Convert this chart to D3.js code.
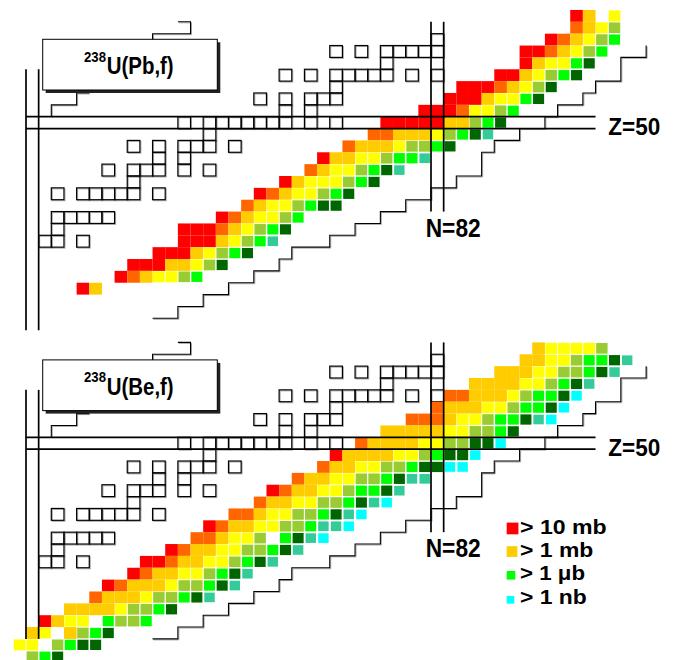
<!DOCTYPE html>
<html><head><meta charset="utf-8">
<script src="https://cdn.jsdelivr.net/npm/d3@7"></script>
<style>body{margin:0;background:#fff}svg{display:block}</style>
</head><body><svg id="c" width="673" height="660"></svg>
<script>
// cross-section classes (codes) and colours
const categories = ["R","O","G","Y","L","E","D","T","C"];
const categoryColors = ["#ff0000","#ff6600","#ffcc00","#ffff00","#99cc33","#00ff00","#006600","#33cc99","#00ffff"];

// rows: [Z, first N, class codes for N, N+1, ...] ('.' = not measured)
const pbRows = [
  [59, 93, "RG.Y"],
  [58, 93, "OGYL"],
  [57, 91, "ROGYLE"],
  [56, 89, "RROGYLE"],
  [55, 89, "RGYYED"],
  [54, 87, "RRGYLED"],
  [53, 84, "RRROGYLD"],
  [52, 83, "RRRGYYED"],
  [51, 81, "RRROYYLE"],
  [50, 78, "RRRRRGGLED"],
  [49, 77, "OOGGGYLEDT"],
  [48, 75, "OGGGYLLED"],
  [47, 73, "RGGYYLEET"],
  [46, 72, "OGYYLEDT"],
  [45, 70, "RGYYYLED"],
  [44, 68, "ROGYYLED"],
  [43, 67, "OGYYLEDD"],
  [42, 65, "ROGYYLE"],
  [41, 62, "RRROGYLED"],
  [40, 62, "RRRGYLET"],
  [39, 60, "RRRGYLED"],
  [38, 58, "RRRGGYLD"],
  [37, 57, "ROGYYLE"],
  [36, 54, "RG"]
];
const beRows = [
  [58, 90, "GYYYYL"],
  [57, 89, "GGYYLEEDT"],
  [56, 87, "GGGYYLLEDT"],
  [55, 85, "GGGGYYLEDT"],
  [54, 83, "OOGGGYLEEDC"],
  [53, 82, "OGGGYYLEEDC"],
  [52, 80, "OOOGYYLEEDTC"],
  [51, 78, "GGGGGYYLLED"],
  [50, 76, "OGGGGYYLLDDC"],
  [49, 74, "RGGGGYYLEDDC"],
  [48, 73, "OGGYYLLEDDCC"],
  [47, 71, "OGGYYLLEDTT"],
  [46, 69, "ROGGYYLEEDT"],
  [45, 68, "OGGYYLLEDTC"],
  [44, 66, "OOGYYLLEDTC"],
  [43, 64, "ROGGYYLLETTC"],
  [42, 63, "OOGYYL.EDTC"],
  [41, 61, "ROGGYYLLEDT"],
  [40, 59, "RROGGYYLEDT"],
  [39, 58, "ROGGYYLEDT"],
  [38, 56, "ROGGGYLLEDT"],
  [37, 55, "OGGGYLLEDT"],
  [36, 53, "GGGGYLLED"],
  [35, 51, "RGYY.ELLE"],
  [34, 50, "GY.GLED"],
  [33, 49, "YY.LEDD"],
  [32, 50, "LED"]
];

// stable nuclei: [Z, [N...]]
const stableNuclei = [
  [57, [82]],
  [56, [74, 76, 78, 79, 80, 81, 82]],
  [55, [78]],
  [54, [70, 72, 74, 75, 76, 77, 78, 80, 82]],
  [53, [74]],
  [52, [68, 70, 72, 73, 74]],
  [51, [70, 72]],
  [50, [62, 64, 65, 66, 67, 68, 69, 70, 72, 74]],
  [49, [64]],
  [48, [58, 60, 62, 63, 64, 66]],
  [47, [60, 62]],
  [46, [56, 58, 59, 60, 62, 64]],
  [45, [58]],
  [44, [52, 54, 55, 56, 57, 58, 60]],
  [42, [52, 53, 54, 55, 56]],
  [41, [52]],
  [40, [51, 52, 54]]
];

// limits of known nuclei: [N edge, Z edge (top of row Z)]
const neutronRichLimit = [[60,33],[62,33],[62,34],[64,34],[64,35],[66,35],[66,36],[68,36],[68,37],[70,37],[70,38],[71,38],[71,39],[74,39],[74,40],[76,40],[76,41],[78,41],[78,42],[80,42],[80,43],[82,43],[82,44],[84,44],[84,45],[86,45],[86,47],[87,47],[87,48],[89,48],[89,49],[91,49],[91,50],[92,50],[92,51],[94,51],[94,52],[95,52],[95,53],[97,53],[97,55],[99,55],[99,56]];
const protonLimitLow = [[52,50],[52,51],[54,51],[54,52],[55,52]];
const protonLimitHigh = [[60,56],[60,57],[63,57],[63,58],[62,58]];

// magic numbers
const magicZ = 50, magicN = [50, 82];

const legendLabels = ["> 10 mb", "> 1 mb", "> 1 \u03bcb", "> 1 nb"];
const legendClasses = [0, 2, 5, 8];

const panels = [
  {mass: "238", reaction: "U(Pb,f)", rows: pbRows, y0: 116.7, colBottomZ: 32},
  {mass: "238", reaction: "U(Be,f)", rows: beRows, y0: 437.3, colBottomZ: 33}
];

const rowH = 11.86;
const x = d3.scaleLinear().domain([50, 82]).range([26, 431]);
const svg = d3.select("#c");
const FONT = "'Liberation Sans', Arial, Helvetica, sans-serif";
const insetFor = k => [0, 0, 0, 0.45, 0.6, 0.8, 0.8, 1.1, 1.1][k];

panels.forEach((p, pi) => {
  const y = d3.scaleLinear().domain([50, 58]).range([p.y0, p.y0 - 8 * rowH]);
  const g = svg.append("g");
  const cw = N => x(N + 1) - x(N);
  const ch = Z => y(Z - 1) - y(Z);

  // stable nuclei
  const stable = stableNuclei.flatMap(([Z, Ns]) => Ns.map(N => ({N, Z})));
  g.selectAll("rect.stsh").data(stable).join("rect").attr("class", "stsh")
    .attr("x", d => x(d.N) + 1).attr("y", d => y(d.Z) + 1)
    .attr("width", d => cw(d.N)).attr("height", d => ch(d.Z))
    .attr("fill", "none").attr("stroke", "#aaa").attr("stroke-width", 1);
  g.selectAll("rect.st").data(stable).join("rect").attr("class", "st")
    .attr("x", d => x(d.N)).attr("y", d => y(d.Z))
    .attr("width", d => cw(d.N)).attr("height", d => ch(d.Z))
    .attr("fill", "none").attr("stroke", "#000").attr("stroke-width", 1.2);

  // limit lines
  const line = d3.line().x(d => x(d[0])).y(d => y(d[1]));
  [neutronRichLimit, protonLimitLow, protonLimitHigh].forEach(pts => {
    g.append("path").attr("d", line(pts)).attr("transform", "translate(1,1)")
      .attr("fill", "none").attr("stroke", "#aaa").attr("stroke-width", 1);
    g.append("path").attr("d", line(pts))
      .attr("fill", "none").attr("stroke", "#000").attr("stroke-width", 1.1);
  });

  // measured cells
  const cells = p.rows.flatMap(([Z, N0, codes]) =>
    codes.split("").map((c, i) => ({Z, N: N0 + i, k: categories.indexOf(c)})).filter(d => d.k >= 0));
  g.selectAll("rect.cell").data(cells).join("rect").attr("class", "cell")
    .attr("x", d => x(d.N) + insetFor(d.k)).attr("y", d => y(d.Z) + insetFor(d.k))
    .attr("width", d => cw(d.N) - 2 * insetFor(d.k)).attr("height", d => ch(d.Z) - 2 * insetFor(d.k))
    .attr("fill", d => categoryColors[d.k]);

  // magic-number lines
  const lw = 1.7;
  // Z=50 band
  [y(magicZ), y(magicZ - 1)].forEach(yy => {
    g.append("line").attr("x1", x(50)).attr("x2", x(95)).attr("y1", yy).attr("y2", yy)
      .attr("stroke", "#000").attr("stroke-width", lw);
  });
  // N=50 column
  [x(magicN[0]), x(magicN[0] + 1)].forEach(xx => {
    g.append("line").attr("x1", xx).attr("x2", xx).attr("y1", y(54)).attr("y2", y(p.colBottomZ))
      .attr("stroke", "#000").attr("stroke-width", lw);
  });
  // N=82 column
  [x(magicN[1]), x(magicN[1] + 1)].forEach(xx => {
    g.append("line").attr("x1", xx).attr("x2", xx).attr("y1", y(58)).attr("y2", y(42))
      .attr("stroke", "#000").attr("stroke-width", lw);
  });

  // labels
  g.append("text").attr("x", 608.3).attr("y", p.y0 + 18.3)
    .attr("font-family", FONT).attr("font-weight", "bold").attr("font-size", 23)
    .attr("textLength", 52).attr("lengthAdjust", "spacingAndGlyphs").text("Z=" + magicZ);
  g.append("text").attr("x", 425.7).attr("y", p.y0 + 120)
    .attr("font-family", FONT).attr("font-weight", "bold").attr("font-size", 25)
    .attr("textLength", 55).attr("lengthAdjust", "spacingAndGlyphs").text("N=" + magicN[1]);

  // title box
  g.append("rect").attr("x", 45.7).attr("y", p.y0 - 74.4).attr("width", 174.6).attr("height", 50.7)
    .attr("fill", "#222");
  g.append("rect").attr("x", 42.7).attr("y", p.y0 - 77.4).attr("width", 174.6).attr("height", 50.7)
    .attr("fill", "#fff").attr("stroke", "#000").attr("stroke-width", 1);
  const t = g.append("text").attr("font-family", FONT).attr("font-weight", "bold");
  t.append("tspan").attr("x", 84).attr("y", p.y0 - 55).attr("font-size", 14)
    .attr("textLength", 22).attr("lengthAdjust", "spacingAndGlyphs").text(p.mass);
  t.append("tspan").attr("x", 106.7).attr("y", p.y0 - 42.7).attr("font-size", 23)
    .attr("textLength", 67).attr("lengthAdjust", "spacingAndGlyphs").text(p.reaction);
});

// legend
const legendSizes = [11.7, 10.7, 8.6, 7.6];
const legendBase = [534.3, 556.9, 579.6, 603.6];
const legendWidths = [86.7, 73.3, 65, 66.7];
const lg = svg.append("g");
legendLabels.forEach((lab, i) => {
  lg.append("rect").attr("x", 506.7).attr("y", legendBase[i] - legendSizes[i])
    .attr("width", legendSizes[i]).attr("height", legendSizes[i])
    .attr("fill", categoryColors[legendClasses[i]]);
  lg.append("text").attr("x", 520).attr("y", legendBase[i])
    .attr("font-family", FONT).attr("font-weight", "bold").attr("font-size", 20)
    .attr("textLength", legendWidths[i]).attr("lengthAdjust", "spacingAndGlyphs").text(lab);
});
</script></body></html>
